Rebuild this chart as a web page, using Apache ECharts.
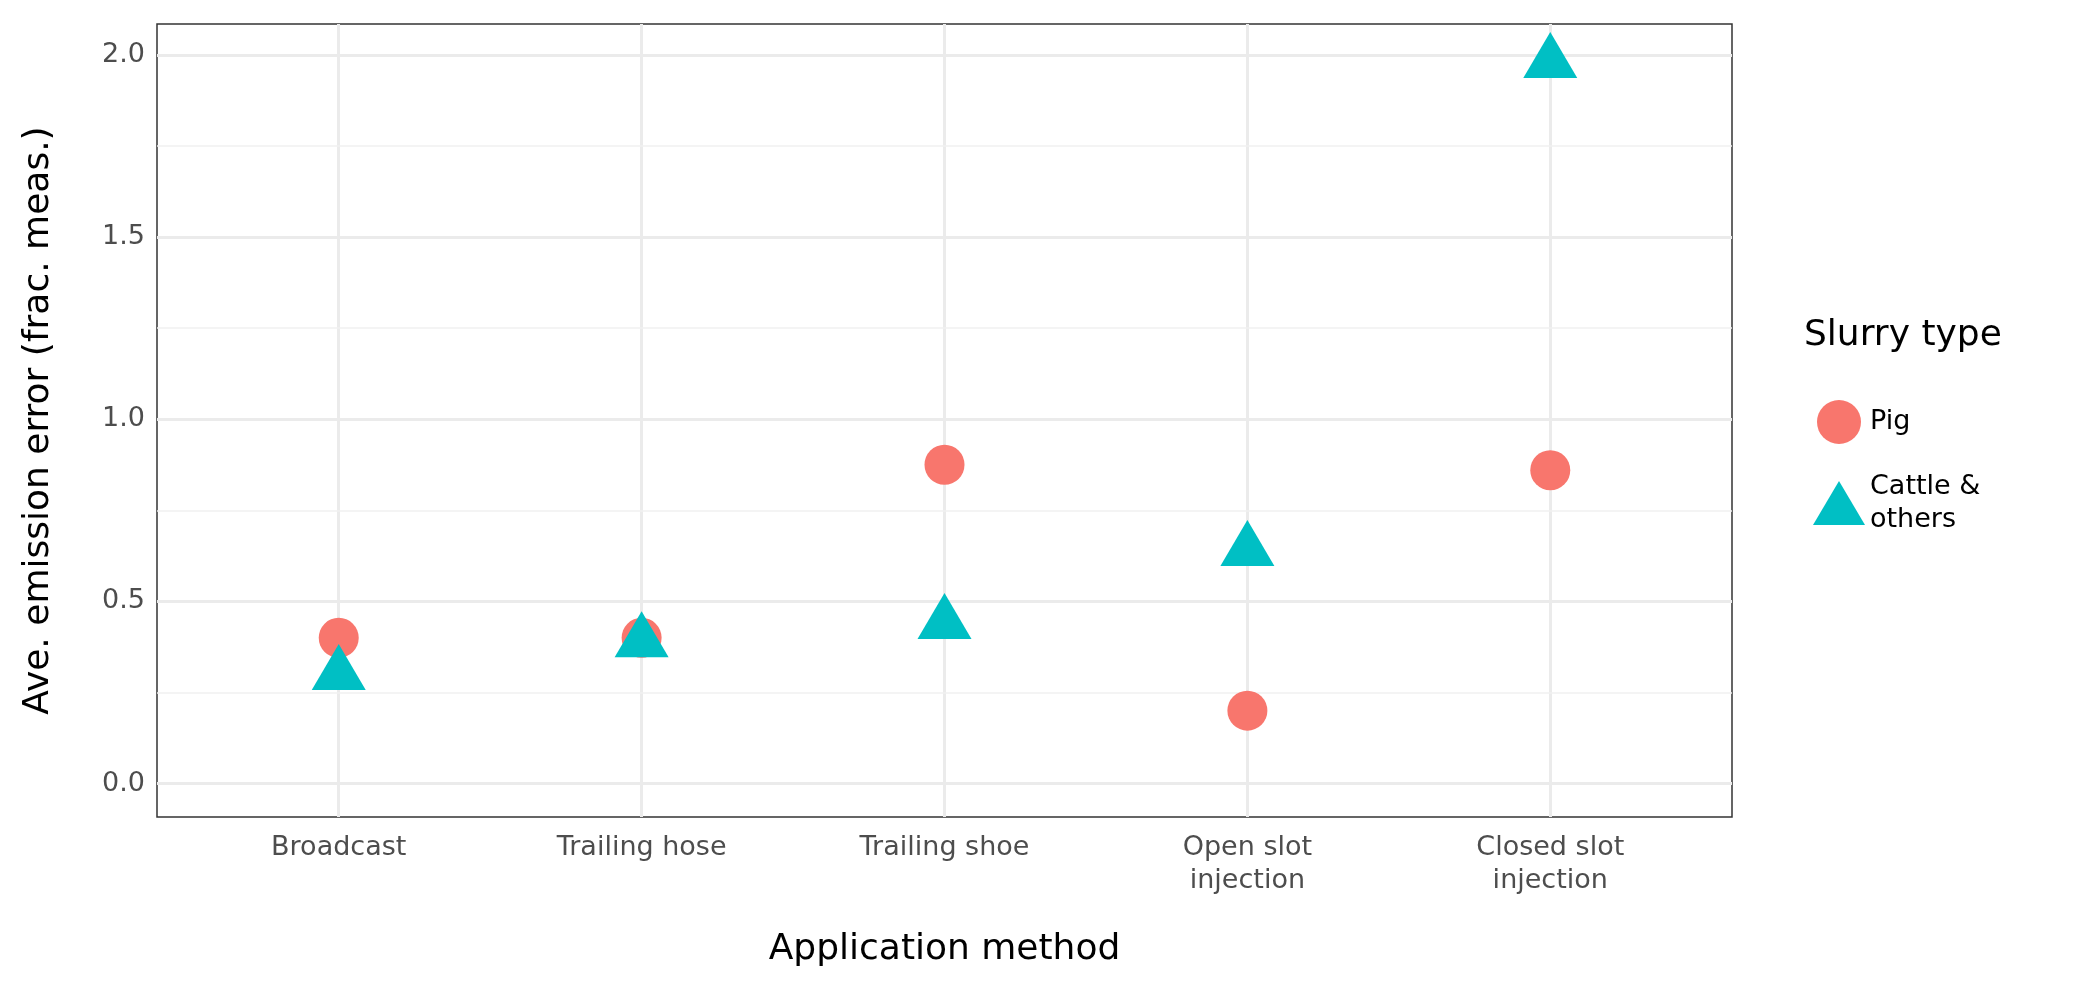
<!DOCTYPE html>
<html><head><meta charset="utf-8">
<script src="https://cdn.jsdelivr.net/npm/echarts@6/dist/echarts.min.js"></script>
<style>html,body{margin:0;padding:0;background:#fff}#plot{width:2100px;height:990px}</style>
</head><body><div id="plot"></div>
<script>
var categories = ['Broadcast', 'Trailing hose', 'Trailing shoe', 'Open slot\ninjection', 'Closed slot\ninjection'];
var pig = [0.40, 0.40, 0.875, 0.20, 0.86];
var cattle = [0.32, 0.41, 0.46, 0.66, 2.0];
var yTicks = [0, 0.5, 1.0, 1.5, 2.0];
var yMinor = [0.25, 0.75, 1.25, 1.75];

var myPlot = echarts.init(document.getElementById('plot'));
var font = 'DejaVu Sans';
var gridLines = [];
categories.forEach(function (c, i) { gridLines.push({ xAxis: i, lineStyle: { color: '#ebebeb', width: 3, type: 'solid' } }); });
yTicks.forEach(function (v) { gridLines.push({ yAxis: v, lineStyle: { color: '#ebebeb', width: 3, type: 'solid' } }); });
yMinor.forEach(function (v) { gridLines.push({ yAxis: v, lineStyle: { color: '#f0f0f0', width: 1.5, type: 'solid' } }); });

option = {
    backgroundColor: '#fff',
    textStyle: { fontFamily: font },
    grid: { left: 157, right: 368, top: 24, bottom: 173, show: true, borderColor: '#333', borderWidth: 1.5, backgroundColor: '#fff' },
    xAxis: {
        type: 'value', min: -0.6, max: 4.6,
        name: 'Application method', nameLocation: 'middle', nameGap: 115,
        nameTextStyle: { fontSize: 36, color: '#000', fontFamily: font },
        axisLine: { show: false },
        splitLine: { show: false },
        axisTick: { show: true, customValues: [0, 1, 2, 3, 4], length: 7, lineStyle: { color: '#333', width: 1.5 } },
        axisLabel: { customValues: [0, 1, 2, 3, 4], fontSize: 27, color: '#4d4d4d', lineHeight: 33, margin: 14,
            formatter: function (v) { return categories[Math.round(v)]; } }
    },
    yAxis: {
        type: 'value', min: -0.092, max: 2.085,
        name: 'Ave. emission error (frac. meas.)', nameLocation: 'middle', nameGap: 100,
        nameTextStyle: { fontSize: 36, color: '#000', fontFamily: font },
        axisLine: { show: false },
        splitLine: { show: false },
        axisTick: { show: true, customValues: yTicks, length: 7, lineStyle: { color: '#333', width: 1.5 } },
        axisLabel: { customValues: yTicks, fontSize: 27, color: '#4d4d4d', margin: 12,
            formatter: function (v) { return v.toFixed(1); } }
    },
    legend: {
        orient: 'vertical', left: 1808, top: 395, itemGap: 26,
        itemWidth: 52, itemHeight: 44,
        textStyle: { fontSize: 27, color: '#000', lineHeight: 33 },
        data: [{ name: 'Pig', icon: 'circle' }, { name: 'Cattle &\nothers', icon: 'triangle' }]
    },
    graphic: [{ type: 'text', left: 1804, top: 318, style: { text: 'Slurry type', fontSize: 36, fill: '#000', fontFamily: font } }],
    series: [
        {
            type: 'scatter', name: 'grid', silent: true, data: [], z: 1,
            markLine: { silent: true, symbol: 'none', label: { show: false }, animation: false, z: 1, data: gridLines }
        },
        {
            type: 'scatter', name: 'Pig', symbol: 'circle', symbolSize: 40, z: 10,
            itemStyle: { color: '#F8766D', opacity: 1 },
            data: pig.map(function (v, i) { return [i, v]; })
        },
        {
            type: 'scatter', name: 'Cattle &\nothers', symbol: 'triangle', symbolSize: [54, 46], z: 11,
            itemStyle: { color: '#00BFC4', opacity: 1 },
            data: cattle.map(function (v, i) { return [i, v]; })
        }
    ]
};
option && myPlot.setOption(option);
</script></body></html>
